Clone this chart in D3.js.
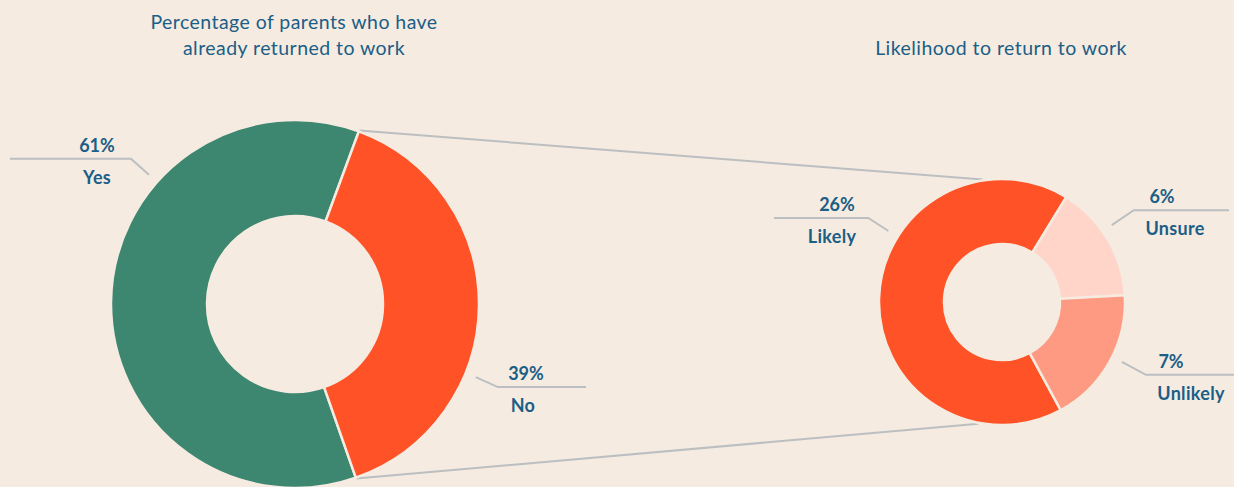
<!DOCTYPE html>
<html>
<head>
<meta charset="utf-8">
<script src="https://cdn.jsdelivr.net/npm/d3@7"></script>
<style>
  html, body { margin: 0; padding: 0; background: #f5ebe1; }
  svg { display: block; font-family: Lato, "Open Sans", sans-serif; }
</style>
</head>
<body>
<svg id="chart" width="1234" height="487"></svg>
<script>
// data
const leftCategories = ["Yes", "No"];
const leftValues = [61, 39];
const leftLabels = ["61%", "39%"];

const rightCategories = ["Likely", "Unsure", "Unlikely"];
const rightValues = [26, 6, 7];
const rightLabels = ["26%", "6%", "7%"];

const leftTitle = ["Percentage of parents who have", "already returned to work"];
const rightTitle = ["Likelihood to return to work"];

const bg = "#f5ebe1";
const textColor = "#1b5e86";
const lineColor = "#bcbfc1";
const leftColors = d3.scaleOrdinal().domain(leftCategories).range(["#3d866f", "#ff5227"]);
const rightColors = d3.scaleOrdinal().domain(rightCategories).range(["#ff5227", "#ffd5ca", "#ff9a82"]);

const deg = Math.PI / 180;
const svg = d3.select("#chart");

const left = { cx: 295, cy: 304, R: 184, r: 88, start: 160.7 * deg };
const right = { cx: 1002, cy: 302, R: 123, r: 58, start: 151.5 * deg };

const polar = (c, a, rad) => [c.cx + rad * Math.sin(a), c.cy - rad * Math.cos(a)];

function donut(c, cats, vals, color) {
  const pie = d3.pie().sort(null)
    .startAngle(c.start).endAngle(c.start + 2 * Math.PI);
  const arcs = pie(vals).map((a, i) => Object.assign(a, { key: cats[i] }));
  const arc = d3.arc().innerRadius(c.r).outerRadius(c.R);
  svg.append("g")
    .attr("transform", `translate(${c.cx},${c.cy})`)
    .selectAll("path")
    .data(arcs)
    .join("path")
    .attr("d", arc)
    .attr("fill", d => color(d.key))
    .attr("stroke", bg)
    .attr("stroke-width", 2.5);
  return arcs;
}

// connectors from the "No" slice to the breakdown donut (drawn first, behind)
const leftArcsPre = d3.pie().sort(null).startAngle(left.start).endAngle(left.start + 2 * Math.PI)(leftValues);
const noArc = leftArcsPre[1];
const topA = polar(left, noArc.startAngle, left.R + 1);
const botA = polar(left, noArc.endAngle, left.R + 1);
const topB = polar(right, -9 * deg, right.R + 1);
const botB = polar(right, 191 * deg, right.R + 1);
svg.append("g")
  .attr("stroke", lineColor).attr("stroke-width", 2)
  .selectAll("line")
  .data([[topA, topB], [botA, botB]])
  .join("line")
  .attr("x1", d => d[0][0]).attr("y1", d => d[0][1])
  .attr("x2", d => d[1][0]).attr("y2", d => d[1][1]);

donut(left, leftCategories, leftValues, leftColors);
donut(right, rightCategories, rightValues, rightColors);

// titles
function title(lines, x, y0) {
  svg.append("text")
    .attr("x", x).attr("y", y0)
    .attr("text-anchor", "middle")
    .attr("fill", textColor)
    .attr("font-size", 19.5)
    .attr("letter-spacing", 0.45)
    .selectAll("tspan")
    .data(lines)
    .join("tspan")
    .attr("x", x)
    .attr("dy", (d, i) => i ? 26 : 0)
    .text(d => d);
}
title(leftTitle, 294, 29);
title(rightTitle, 1001, 55);

// label layout: leader start angle, elbow offset, line end, value / word x
const labelLayout = [
  { c: left, angle: 311.5, dx: -18, dy: -16, endX: 10, vx: 97, wx: 97, key: "Yes" },
  { c: left, angle: 112, dx: 22, dy: 10, endX: 586, vx: 526, wx: 523, key: "No" },
  { c: right, angle: 302, dx: -20, dy: -13, endX: 774, vx: 837, wx: 832, key: "Likely" },
  { c: right, angle: 55, dx: 22, dy: -15, endX: 1229, vx: 1162, wx: 1175, key: "Unsure" },
  { c: right, angle: 116.5, dx: 24, dy: 13, endX: 1234, vx: 1171, wx: 1191, key: "Unlikely" }
];
const allCats = leftCategories.concat(rightCategories);
const allLabels = leftLabels.concat(rightLabels);

const lg = svg.append("g");
labelLayout.forEach(L => {
  const i = allCats.indexOf(L.key);
  const p0 = polar(L.c, L.angle * deg, L.c.R + 11);
  const p1 = [p0[0] + L.dx, p0[1] + L.dy];
  lg.append("polyline")
    .attr("points", [p0, p1, [L.endX, p1[1]]].map(p => p.join(",")).join(" "))
    .attr("fill", "none")
    .attr("stroke", lineColor)
    .attr("stroke-width", 2);
  lg.append("text")
    .attr("x", L.vx).attr("y", p1[1] - 7)
    .attr("text-anchor", "middle")
    .attr("font-size", 18).attr("font-weight", 700)
    .attr("fill", textColor)
    .text(allLabels[i]);
  lg.append("text")
    .attr("x", L.wx).attr("y", p1[1] + 25)
    .attr("text-anchor", "middle")
    .attr("font-size", 18).attr("font-weight", 700)
    .attr("letter-spacing", 0.3)
    .attr("fill", textColor)
    .text(L.key);
});
</script>
</body>
</html>
